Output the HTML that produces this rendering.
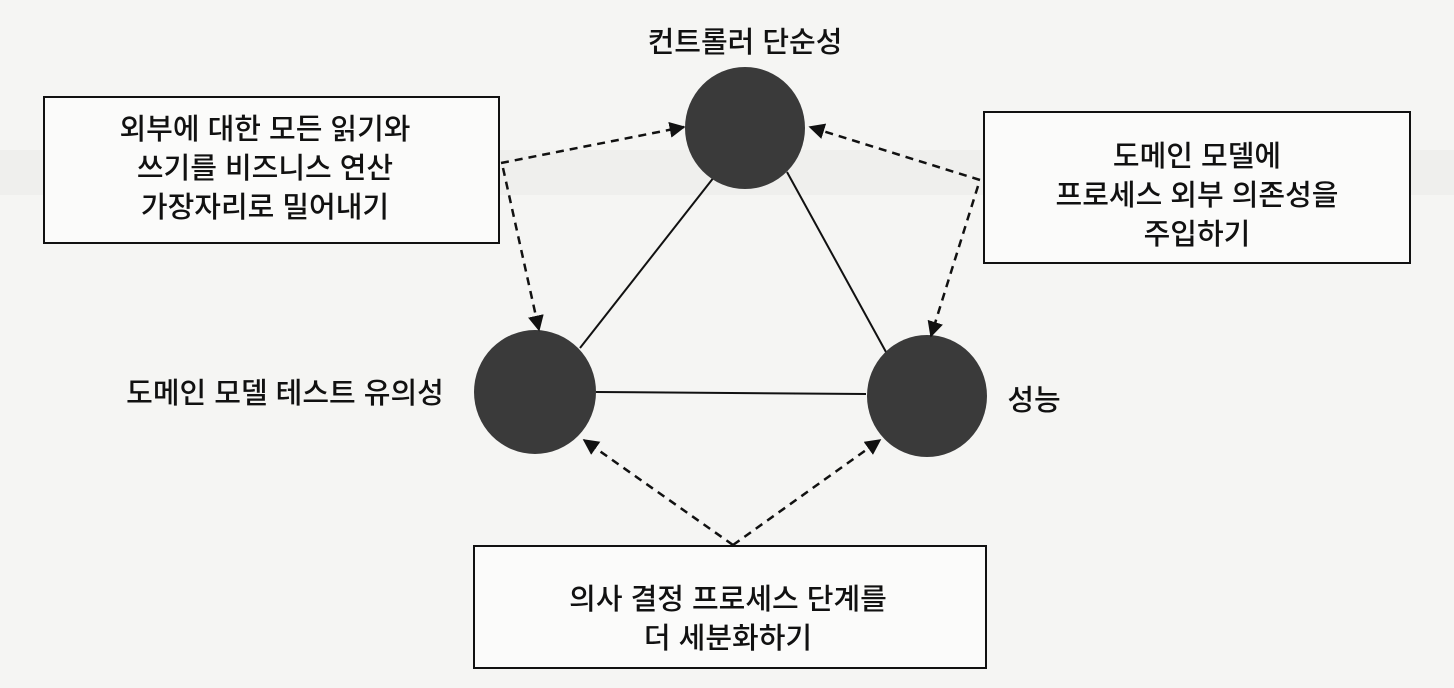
<!DOCTYPE html>
<html><head><meta charset="utf-8"><style>
html,body{margin:0;padding:0;background:#f5f5f3;}
svg{display:block}
text{font-family:"Liberation Sans","Noto Sans CJK KR",sans-serif;font-size:29px;fill:#111;text-anchor:middle;font-weight:500}
</style></head><body>
<svg width="1454" height="688" viewBox="0 0 1454 688" xmlns="http://www.w3.org/2000/svg">
<defs>
<marker id="a" viewBox="0 0 10 10" refX="9" refY="5" markerWidth="16" markerHeight="16" markerUnits="userSpaceOnUse" orient="auto">
<path d="M0,0 L10,5 L0,10 z" fill="#111"/></marker>
</defs>
<rect x="0" y="0" width="1454" height="688" fill="#f5f5f3"/>
<rect x="0" y="150" width="1454" height="45" fill="#efefed"/>
<g stroke="#111" stroke-width="2">
<line x1="718" y1="172" x2="580" y2="348"/>
<line x1="787" y1="172" x2="886" y2="352"/>
<line x1="596" y1="392" x2="866" y2="394"/>
</g>
<g fill="#3a3a3a">
<ellipse cx="745" cy="128" rx="60" ry="61"/>
<ellipse cx="535" cy="392" rx="61" ry="62"/>
<ellipse cx="927" cy="396" rx="60" ry="61"/>
</g>
<g fill="#fbfbfa" stroke="#111" stroke-width="2">
<rect x="44" y="97" width="455" height="146"/>
<rect x="984" y="112" width="426" height="151"/>
<rect x="474" y="546" width="512" height="122"/>
</g>
<g stroke="#111" stroke-width="2.5" stroke-dasharray="8,6" fill="none">
<line x1="501" y1="163" x2="684" y2="127" marker-end="url(#a)"/>
<line x1="503" y1="168" x2="539" y2="330" marker-end="url(#a)"/>
<line x1="980" y1="180" x2="810" y2="127" marker-end="url(#a)"/>
<line x1="978" y1="186" x2="931" y2="336" marker-end="url(#a)"/>
<line x1="733" y1="545" x2="584" y2="440" marker-end="url(#a)"/>
<line x1="733" y1="545" x2="880" y2="440" marker-end="url(#a)"/>
</g>
<text x="745" y="52">컨트롤러 단순성</text>
<text x="285" y="403">도메인 모델 테스트 유의성</text>
<text x="1034" y="410">성능</text>
<text x="265" y="139">외부에 대한 모든 읽기와</text>
<text x="265" y="178">쓰기를 비즈니스 연산</text>
<text x="265" y="217">가장자리로 밀어내기</text>
<text x="1197" y="166">도메인 모델에</text>
<text x="1197" y="205">프로세스 외부 의존성을</text>
<text x="1197" y="244">주입하기</text>
<text x="728" y="609">의사 결정 프로세스 단계를</text>
<text x="728" y="648">더 세분화하기</text>
</svg>
</body></html>
